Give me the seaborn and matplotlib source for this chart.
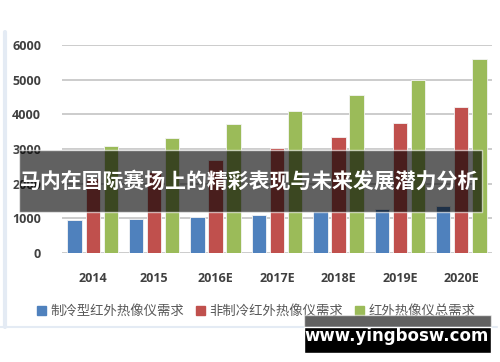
import pandas as pd
import numpy as np
import seaborn as sns
import matplotlib.pyplot as plt
from matplotlib.patches import Rectangle
from matplotlib.lines import Line2D

# data
years = ['2014', '2015', '2016E', '2017E', '2018E', '2019E', '2020E']
cooled = [950, 980, 1040, 1090, 1200, 1260, 1350]
uncooled = [2150, 2340, 2670, 3020, 3360, 3740, 4220]
total = [3100, 3320, 3710, 4110, 4560, 5000, 5590]
series = ['制冷型红外热像仪需求', '非制冷红外热像仪需求', '红外热像仪总需求']
colors = ['#4F81BD', '#C0504D', '#9BBB59']

title = '马内在国际赛场上的精彩表现与未来发展潜力分析'
watermark = 'www.yingbosw.com'

df = pd.DataFrame({
    'year': years * 3,
    'value': cooled + uncooled + total,
    'series': [series[0]] * 7 + [series[1]] * 7 + [series[2]] * 7,
})

sns.set_style('white')
plt.rcParams['font.family'] = ['Noto Sans CJK SC', 'DejaVu Sans']

W, H = 500, 362
fig = plt.figure(figsize=(W / 100, H / 100), dpi=100)


def fx(px):
    return px / W


def fy(py):
    return 1 - py / H


ax = fig.add_axes([fx(62), fy(253), fx(492) - fx(62), fy(45) - fy(253)])
sns.barplot(data=df, x='year', y='value', hue='series', palette=colors,
            saturation=1, width=0.88, gap=0.2, edgecolor='#f4f4f4',
            linewidth=0.6, ax=ax, legend=False, zorder=3)

ax.set_ylim(0, 6000)
ax.set_xlim(-0.5, 6.5)
ax.set_yticks(range(0, 7000, 1000))
ax.yaxis.grid(True, color='#c4c4c4', linewidth=1.2, zorder=0)
ax.set_axisbelow(True)
for s in ax.spines.values():
    s.set_visible(False)
ax.set_xlabel('')
ax.set_ylabel('')
ax.tick_params(axis='both', length=0, colors='#404040')
ax.tick_params(axis='y', pad=15)
ax.tick_params(axis='x', pad=14)
for lab in ax.get_xticklabels() + ax.get_yticklabels():
    lab.set_fontfamily('Open Sans')
    lab.set_fontweight('bold')
    lab.set_fontsize(9)

# legend
handles = [Rectangle((0, 0), 1, 1, color=c) for c in colors]
fig.legend(handles, series, loc='center', bbox_to_anchor=(fx(256), fy(311)),
           ncol=3, frameon=False, handlelength=0.7, handleheight=0.7,
           handletextpad=0.3, columnspacing=0.9, labelcolor='#595959',
           prop={'size': 9.6})

# light panel border
fig.add_artist(Line2D([fx(5), fx(5)], [fy(32), fy(327)], color='#e4ebf4',
                      linewidth=3))
fig.add_artist(Line2D([fx(0), fx(497)], [fy(327), fy(327)], color='#e4ebf4',
                      linewidth=1.5))

# banner overlay
fig.add_artist(Rectangle((fx(19), fy(212)), fx(482) - fx(19), fy(150) - fy(212),
                         transform=fig.transFigure, facecolor='black',
                         alpha=0.62, zorder=10))
fig.text(fx(250), fy(181), title, ha='center', va='center', color='white',
         fontsize=15, fontweight='bold', zorder=11)

# watermark
fig.add_artist(Rectangle((fx(304), fy(327)), fx(491) - fx(304), fy(315) - fy(327),
                         transform=fig.transFigure, facecolor='black',
                         alpha=0.62, zorder=10))
fig.add_artist(Rectangle((fx(304), fy(353)), fx(491) - fx(304), fy(327) - fy(353),
                         transform=fig.transFigure, facecolor='black', zorder=10))
fig.text(fx(397), fy(336), watermark, ha='center', va='center', color='white',
         fontsize=12, fontweight='bold', family='DejaVu Sans', zorder=11)

fig.savefig('out.png', dpi=100)
